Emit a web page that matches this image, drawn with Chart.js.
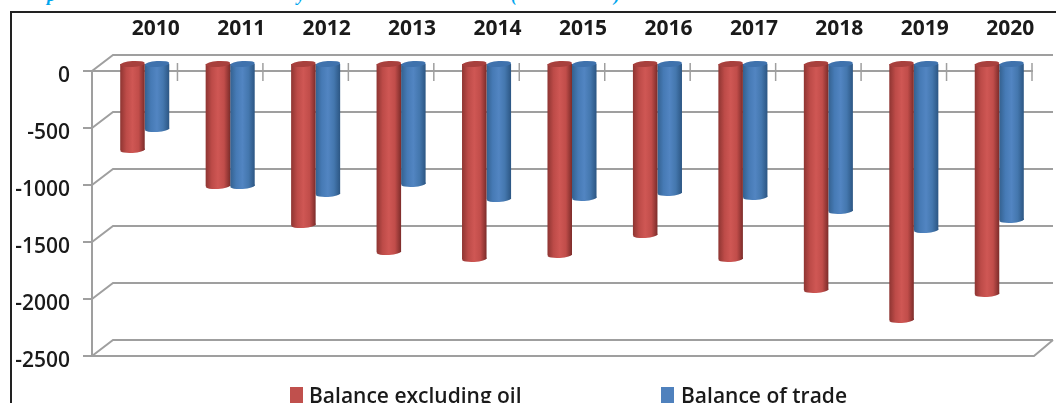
<!DOCTYPE html>
<html>
<head>
<meta charset="utf-8">
<title>Balance of trade</title>
<script src="https://cdn.jsdelivr.net/npm/chart.js@4"></script>
<style>
  html, body { margin: 0; padding: 0; background: #fff; overflow: hidden; }
  #page { position: relative; width: 1056px; height: 403px; overflow: hidden; }
  #frame { position: absolute; left: 10px; top: 11px; right: 0; bottom: 0; border-left: 2px solid #222; border-top: 2px solid #222; }
  canvas { position: absolute; left: 0; top: 0; }
  /* heading sits above the page edge, only its descenders show */
  .heading { position: absolute; top: -14px; font: italic bold 18px "Liberation Serif", serif; color: #00a6ee; line-height: 18px; }
</style>
</head>
<body>
<div id="page">
  <span class="heading" style="left:47px">p</span>
  <span class="heading" style="left:297px">y</span>
  <span class="heading" style="left:511px">(</span>
  <span class="heading" style="left:614px">)</span>
  <div id="frame"></div>
  <canvas id="balanceChart" width="1056" height="403"></canvas>
</div>
<script>
const years = ["2010", "2011", "2012", "2013", "2014", "2015", "2016", "2017", "2018", "2019", "2020"];
const balanceExcludingOil = [-763, -1079, -1421, -1658, -1719, -1684, -1509, -1719, -1991, -2254, -2026];
const balanceOfTrade = [-579, -1079, -1149, -1061, -1193, -1184, -1140, -1175, -1298, -1465, -1377];
const yTicks = [0, -500, -1000, -1500, -2000, -2500];

const GRID = "#9f9f9f";
const CAT_PCT = 0.574;

// depth of the fake 3D box, back wall relative to front
const DEPTH_X = 21;
const DEPTH_Y = -16;
// the cylinders stand halfway into the box
const BAR_SHIFT_X = 10;
const BAR_SHIFT_Y = -8;
const CAP_RY = 3;

const redStops = ["#8e3532", "#bd4b48", "#cf5754", "#c14d4a", "#7c2c2a"];
const blueStops = ["#34618f", "#467ab5", "#5285c2", "#4477ae", "#2c5683"];

// scriptable fill: a cylinder shading across the width of each bar
function cylinderFill(stops) {
  return (ctx) => {
    const chart = ctx.chart;
    if (!chart.chartArea || ctx.dataIndex === undefined) return stops[2];
    const x = chart.scales.x;
    const center = x.getPixelForValue(ctx.dataIndex);
    const barW = ((x.getPixelForValue(1) - x.getPixelForValue(0)) * CAT_PCT) / 2;
    // bars are painted inside the translated context, so no shift here
    const left = center + (ctx.datasetIndex - 1) * barW;
    if (!Number.isFinite(left)) return stops[2];
    const g = chart.ctx.createLinearGradient(left, 0, left + barW, 0);
    stops.forEach((c, i) => g.addColorStop(i / (stops.length - 1), c));
    return g;
  };
}

const box3d = {
  id: "box3d",
  beforeDatasetsDraw(chart) {
    const { ctx, chartArea: a, scales } = chart;
    ctx.save();
    ctx.strokeStyle = GRID;
    ctx.lineWidth = 2;
    // back wall lines and their left side diagonals
    yTicks.forEach((t) => {
      const y = scales.y.getPixelForValue(t);
      ctx.beginPath();
      ctx.moveTo(a.left, y);
      ctx.lineTo(a.left + DEPTH_X, y + DEPTH_Y);
      ctx.lineTo(a.right + DEPTH_X, y + DEPTH_Y);
      ctx.stroke();
    });
    // floor front edge and right diagonal
    const floor = scales.y.getPixelForValue(-2500);
    ctx.beginPath();
    ctx.moveTo(a.left, floor);
    ctx.lineTo(a.right + 2, floor);
    ctx.lineTo(a.right + DEPTH_X, floor + DEPTH_Y);
    ctx.stroke();
    // category ticks cross the zero line
    const zero = scales.y.getPixelForValue(0);
    ctx.lineWidth = 1.5;
    years.forEach((_, i) => {
      const tx = scales.x.getPixelForValue(i) + (scales.x.getPixelForValue(1) - scales.x.getPixelForValue(0)) / 2;
      ctx.beginPath();
      ctx.moveTo(tx, zero - 8);
      ctx.lineTo(tx, zero + 10);
      ctx.stroke();
    });
    ctx.restore();
    ctx.save();
    ctx.translate(BAR_SHIFT_X, BAR_SHIFT_Y);
  },
  afterDatasetDraw(chart, args) {
    // round the bar ends
    const { ctx } = chart;
    const top = args.index === 0 ? "#a8403d" : "#3f72ad";
    args.meta.data.forEach((el) => {
      ctx.fillStyle = el.options.backgroundColor;
      ctx.beginPath();
      ctx.ellipse(el.x, el.y, el.width / 2, CAP_RY, -0.06, 0, Math.PI * 2);
      ctx.fill();
      ctx.fillStyle = top;
      ctx.beginPath();
      ctx.ellipse(el.x, el.base, el.width / 2, CAP_RY, -0.06, 0, Math.PI * 2);
      ctx.fill();
    });
  },
  afterDatasetsDraw(chart) {
    chart.ctx.restore();
  },
  afterDraw(chart) {
    // legend row, runs off the bottom edge of the canvas
    const { ctx } = chart;
    const entries = [
      { swatch: 290, text: 309, color: "#c0504d" },
      { swatch: 661, text: 681, color: "#4f81bd" },
    ];
    ctx.save();
    ctx.font = "600 21px 'Open Sans'";
    ctx.textBaseline = "alphabetic";
    entries.forEach((e, i) => {
      ctx.fillStyle = e.color;
      ctx.fillRect(e.swatch, 387, 13, 16);
      ctx.fillStyle = "#1a1a1a";
      ctx.fillText(chart.data.datasets[i].label, e.text, 403);
    });
    ctx.restore();
  },
};

new Chart(document.getElementById("balanceChart"), {
  type: "bar",
  data: {
    labels: years,
    datasets: [
      { label: "Balance excluding oil", data: balanceExcludingOil, backgroundColor: cylinderFill(redStops), clip: false },
      { label: "Balance of trade", data: balanceOfTrade, backgroundColor: cylinderFill(blueStops), clip: false },
    ],
  },
  options: {
    responsive: false,
    animation: false,
    categoryPercentage: CAT_PCT,
    barPercentage: 1,
    layout: { padding: { left: 0, top: 0, right: 24, bottom: 47 } },
    plugins: { legend: { display: false }, tooltip: { enabled: false } },
    scales: {
      x: {
        position: "top",
        grid: { display: false },
        border: { display: true, color: GRID, width: 2 },
        ticks: {
          font: { family: "'Open Sans'", size: 21, weight: "700" },
          color: "#1a1a1a",
          padding: 21,
          maxRotation: 0,
          labelOffset: 21,
        },
        afterFit: (scale) => { scale.height = 71; },
      },
      y: {
        min: -2500,
        max: 0,
        afterBuildTicks: (scale) => { scale.ticks = yTicks.map((v) => ({ value: v })); },
        grid: { drawOnChartArea: false, drawTicks: true, tickLength: 9, color: GRID, lineWidth: 2 },
        border: { display: true, color: GRID, width: 2 },
        ticks: {
          font: { family: "'Open Sans'", size: 21, weight: "600" },
          color: "#1a1a1a",
          padding: 13,
          labelOffset: 5,
          callback: (v) => String(v),
        },
        afterFit: (scale) => { scale.width = 92; },
      },
    },
  },
  plugins: [box3d],
});
</script>
</body>
</html>
